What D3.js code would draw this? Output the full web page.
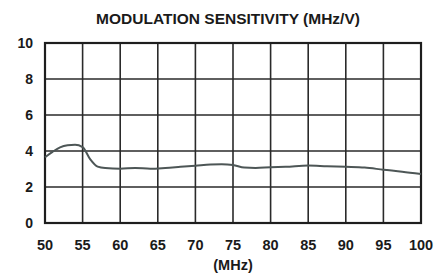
<!DOCTYPE html>
<html>
<head>
<meta charset="utf-8">
<script src="https://cdn.jsdelivr.net/npm/d3@7"></script>
<style>
  body { margin: 0; background: #fff; }
  text { font-family: "Liberation Sans", Arial, sans-serif; font-weight: bold; fill: #1a1a1a; }
</style>
</head>
<body>
<div id="chart"></div>
<script>
// data
var freqMHz = [50, 51, 52, 53, 54, 55, 56, 57, 58, 60, 62, 64, 66, 68, 70, 72, 73.5, 75, 76.5, 78, 80, 82, 85, 87.5, 90, 92.5, 95, 97.5, 100];
var sensitivity = [3.65, 3.95, 4.2, 4.32, 4.35, 4.22, 3.55, 3.13, 3.05, 3.02, 3.05, 3.02, 3.06, 3.12, 3.18, 3.25, 3.26, 3.22, 3.08, 3.06, 3.1, 3.12, 3.19, 3.15, 3.12, 3.08, 2.96, 2.85, 2.72];
var xTicks = [50, 55, 60, 65, 70, 75, 80, 85, 90, 95, 100];
var yTicks = [0, 2, 4, 6, 8, 10];

var W = 443, H = 275;
var margin = { top: 43, right: 22, bottom: 52, left: 45 };
var width = W - margin.left - margin.right,
    height = H - margin.top - margin.bottom;

var svg = d3.select("#chart").append("svg")
    .attr("width", W)
    .attr("height", H);

var g = svg.append("g")
    .attr("transform", "translate(" + margin.left + "," + margin.top + ")");

var x = d3.scaleLinear().domain([50, 100]).range([0, width]);
var y = d3.scaleLinear().domain([0, 10]).range([height, 0]);

// grid
g.selectAll(".vgrid").data(xTicks).enter().append("line")
    .attr("x1", function(d) { return x(d); })
    .attr("x2", function(d) { return x(d); })
    .attr("y1", 0).attr("y2", height)
    .attr("stroke", "#2a2a2a").attr("stroke-width", 1.6);

g.selectAll(".hgrid").data(yTicks).enter().append("line")
    .attr("x1", 0).attr("x2", width)
    .attr("y1", function(d) { return y(d); })
    .attr("y2", function(d) { return y(d); })
    .attr("stroke", "#2a2a2a").attr("stroke-width", 1.6);

g.append("rect")
    .attr("width", width).attr("height", height)
    .attr("fill", "none").attr("stroke", "#1e1e1e").attr("stroke-width", 2.2);

// curve
var line = d3.line()
    .x(function(d, i) { return x(freqMHz[i]); })
    .y(function(d) { return y(d); })
    .curve(d3.curveMonotoneX);

g.append("path")
    .datum(sensitivity)
    .attr("d", line)
    .attr("fill", "none")
    .attr("stroke", "#4d5656")
    .attr("stroke-width", 2);

// tick labels
g.selectAll(".ylab").data(yTicks).enter().append("text")
    .attr("x", -12)
    .attr("y", function(d) { return y(d); })
    .attr("dy", "0.36em")
    .attr("text-anchor", "end")
    .style("font-size", "14px")
    .text(function(d) { return d; });

g.selectAll(".xlab").data(xTicks).enter().append("text")
    .attr("x", function(d) { return x(d); })
    .attr("y", height + 27)
    .attr("text-anchor", "middle")
    .style("font-size", "14.5px")
    .text(function(d) { return d; });

svg.append("text")
    .attr("x", margin.left + width / 2)
    .attr("y", 270)
    .attr("text-anchor", "middle")
    .style("font-size", "14.5px")
    .text("(MHz)");

svg.append("text")
    .attr("x", 228)
    .attr("y", 24)
    .attr("text-anchor", "middle")
    .style("font-size", "15.5px")
    .text("MODULATION SENSITIVITY (MHz/V)");
</script>
</body>
</html>
